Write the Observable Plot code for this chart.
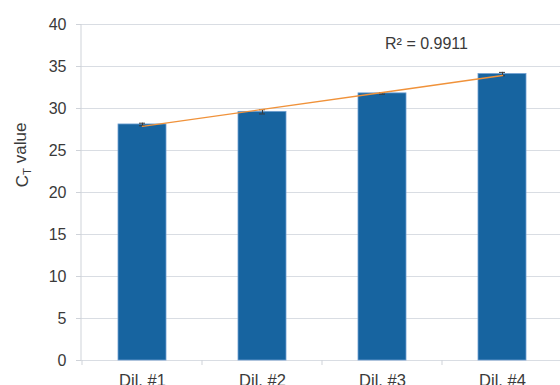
<!DOCTYPE html>
<html>
<head>
<meta charset="utf-8">
<script src="https://cdn.jsdelivr.net/npm/d3@7"></script>
<script src="https://cdn.jsdelivr.net/npm/@observablehq/plot@0.6"></script>
<style>
  html, body { margin: 0; padding: 0; background: #fff; overflow: hidden; }
  #chart svg { display: block; }
</style>
</head>
<body>
<div id="chart"></div>
<script>
const categories = ["Dil. #1", "Dil. #2", "Dil. #3", "Dil. #4"];
const ctValues = [28.1, 29.6, 31.8, 34.1];
const ctErrors = [0.15, 0.25, 0.1, 0.2];
const yTicks = [0, 5, 10, 15, 20, 25, 30, 35, 40];
const r2Label = "R² = 0.9911";

const data = categories.map((c, i) => ({cat: c, v: ctValues[i], e: ctErrors[i], i: i + 1}));
// linear trend line fitted through the bar values
const xm = d3.mean(data, d => d.i), ym = d3.mean(data, d => d.v);
const slope = d3.sum(data, d => (d.i - xm) * (d.v - ym)) / d3.sum(data, d => (d.i - xm) ** 2);
const intercept = ym - slope * xm;
const fit = data.map(d => ({cat: d.cat, f: intercept + slope * d.i}));

const axisColor = "#cfd3d9";
const textColor = "#3a3a3a";

const chart = Plot.plot({
  width: 560,
  height: 385,
  marginLeft: 81,
  marginRight: 0,
  marginTop: 24,
  marginBottom: 25,
  style: {fontFamily: "'Liberation Sans', Arial, sans-serif", fontSize: "16px", background: "#fff"},
  x: {domain: categories, range: [81, 562.3], paddingInner: 0.6, paddingOuter: 0.3, label: null},
  y: {domain: [0, 40], label: null},
  marks: [
    Plot.gridY(yTicks, {stroke: "#d9dde3", strokeOpacity: 1}),
    Plot.axisY(yTicks, {tickSize: 5, tickPadding: 10, stroke: axisColor, fill: textColor, fontSize: 16, label: null}),
    Plot.axisX({tickSize: 0, tickPadding: 14, fill: textColor, fontSize: 16.5, label: null}),
    Plot.barY(data, {x: "cat", y: "v", fill: "#1764a0", stroke: "#6f9fd1", strokeWidth: 0.8}),
    Plot.ruleX(data, {x: "cat", y1: d => d.v - d.e, y2: d => d.v + d.e, stroke: "#3a3a3a", strokeWidth: 1}),
    Plot.tickY(data, {x: "cat", y: d => d.v - d.e, stroke: "#3a3a3a", strokeWidth: 1, insetLeft: 21, insetRight: 21}),
    Plot.tickY(data, {x: "cat", y: d => d.v + d.e, stroke: "#3a3a3a", strokeWidth: 1, insetLeft: 21, insetRight: 21}),
    Plot.line(fit, {x: "cat", y: "f", stroke: "#f0923a", strokeWidth: 1.4}),
    Plot.text([r2Label], {frameAnchor: "top-left", dx: 345, dy: 13, text: d => d, textAnchor: "middle", fontSize: 16, fill: textColor})
  ]
});

document.getElementById("chart").appendChild(chart);

const svg = d3.select(chart);
const xs = chart.scale("x");
const ys = chart.scale("y");
const y0 = ys.apply(0), y40 = ys.apply(40);
// left axis line
svg.append("line")
  .attr("x1", 81).attr("x2", 81).attr("y1", y40).attr("y2", y0)
  .attr("stroke", axisColor);
// category boundary ticks
const gap = (xs.step - xs.bandwidth) / 2;
categories.forEach(c => {
  const bx = xs.apply(c) - gap;
  svg.append("line")
    .attr("x1", bx).attr("x2", bx).attr("y1", y0).attr("y2", y0 + 5)
    .attr("stroke", axisColor);
});
// y axis title with subscript
const t = svg.append("text")
  .attr("transform", "translate(28,155) rotate(-90)")
  .attr("text-anchor", "middle")
  .attr("fill", textColor)
  .attr("font-size", 17)
  .attr("font-family", "'Liberation Sans', Arial, sans-serif");
t.append("tspan").text("C");
t.append("tspan").attr("font-size", 11.5).attr("dy", "0.3em").text("T");
t.append("tspan").attr("dy", "-0.3em").text(" value");
</script>
</body>
</html>
